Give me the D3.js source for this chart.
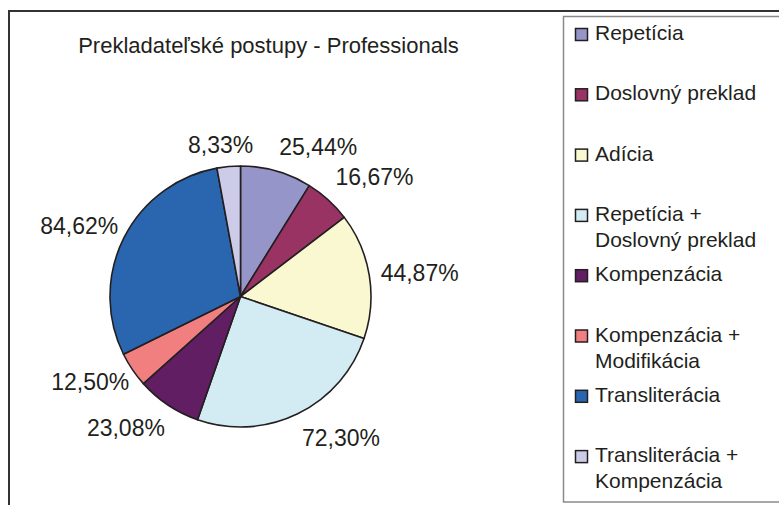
<!DOCTYPE html>
<html>
<head>
<meta charset="utf-8">
<script src="https://cdn.jsdelivr.net/npm/d3@7"></script>
<style>
  html, body { margin: 0; padding: 0; background: #fff; }
  svg { display: block; font-family: "Liberation Sans", Arial, sans-serif; }
</style>
</head>
<body>
<svg id="chart" width="779" height="505"></svg>
<script>
// ---- data ----
const title = "Prekladateľské postupy - Professionals";
const categories = [
  "Repetícia",
  "Doslovný preklad",
  "Adícia",
  "Repetícia + Doslovný preklad",
  "Kompenzácia",
  "Kompenzácia + Modifikácia",
  "Transliterácia",
  "Transliterácia + Kompenzácia"
];
const values = [25.44, 16.67, 44.87, 72.30, 23.08, 12.50, 84.62, 8.33];
const colors = ["#9595c9", "#983364", "#f9f8d0", "#d3ecf3", "#621e62", "#f17f7f", "#2a66b0", "#cccce9"];
// label layout tweaks (px) for labels that were moved in the original
const labelNudge = [[28, -5], [12, -8], [0, 0], [21, 5], [-14, 5], [0, 0], [1, -3], [-4, -2]];

// ---- drawing ----
const svg = d3.select("#chart");
const W = 779, H = 505;
const cx = 240.5, cy = 296.5, R = 130.5;

// outer frame (top and left edges visible)
svg.append("line").attr("x1", 9).attr("y1", 11).attr("x2", W + 5).attr("y2", 11)
  .attr("stroke", "#333").attr("stroke-width", 2);
svg.append("line").attr("x1", 9).attr("y1", 10).attr("x2", 9).attr("y2", H + 5)
  .attr("stroke", "#333").attr("stroke-width", 2);

// title
svg.append("text").attr("x", 268.5).attr("y", 53).attr("text-anchor", "middle")
  .attr("font-size", 22).attr("fill", "#231f20").text(title);

const loc = d3.formatLocale({decimal: ",", thousands: " ", grouping: [3], currency: ["", ""]});
const fmt = loc.format(".2f");

const pie = d3.pie().sort(null).value(d => d)(values);
const arc = d3.arc().innerRadius(0).outerRadius(R);

const g = svg.append("g").attr("transform", `translate(${cx},${cy})`);
g.selectAll("path.slice").data(pie).join("path")
  .attr("class", "slice")
  .attr("d", arc)
  .attr("fill", (d, i) => colors[i])
  .attr("stroke", "#231f20")
  .attr("stroke-width", 1.6)
  .attr("stroke-linejoin", "round");

// data labels
const labelR = R + 12;
g.selectAll("text.lbl").data(pie).join("text")
  .attr("class", "lbl")
  .attr("font-size", 23)
  .attr("fill", "#231f20")
  .attr("text-anchor", "middle")
  .text(d => fmt(d.value) + "%")
  .each(function (d, i) {
    const a = (d.startAngle + d.endAngle) / 2;
    const s = Math.sin(a), c = Math.cos(a);
    const w = this.getComputedTextLength();
    const h = 17;
    const x = labelR * s + (w / 2) * s + labelNudge[i][0];
    const yc = -labelR * c - (h / 2) * c + labelNudge[i][1];
    d3.select(this).attr("x", x).attr("y", yc + h / 2);
  });

// legend
const lx = 563.5, ly = 16.5;
svg.append("rect").attr("x", lx).attr("y", ly).attr("width", W - lx + 20).attr("height", 502 - ly)
  .attr("fill", "#fff").attr("stroke", "#8a8a8a").attr("stroke-width", 1.5);

const legendStep = 60.3, firstBase = 40, lineH = 26;
const items = svg.append("g").selectAll("g").data(categories).join("g")
  .attr("transform", (d, i) => `translate(0,${firstBase + i * legendStep})`);
items.append("rect")
  .attr("x", 575.5).attr("y", -11.5).attr("width", 12).attr("height", 12)
  .attr("fill", (d, i) => colors[i]).attr("stroke", "#231f20").attr("stroke-width", 1.5);
items.append("text")
  .attr("x", 595).attr("y", 0).attr("font-size", 21).attr("fill", "#231f20")
  .each(function (d) {
    const parts = d.includes(" + ") ? [d.split(" + ")[0] + " +", d.split(" + ")[1]] : [d];
    d3.select(this).selectAll("tspan").data(parts).join("tspan")
      .attr("x", 595).attr("dy", (p, k) => k === 0 ? 0 : lineH).text(p => p);
  });
</script>
</body>
</html>
